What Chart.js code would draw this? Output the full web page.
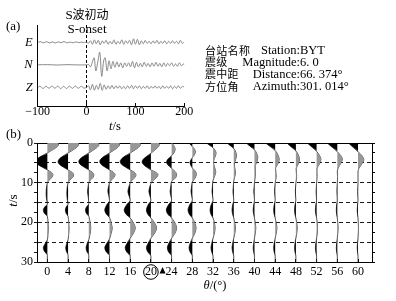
<!DOCTYPE html>
<html>
<head>
<meta charset="utf-8">
<script src="https://cdn.jsdelivr.net/npm/chart.js@4.4.1/dist/chart.umd.min.js"></script>
<style>
body { margin: 0; background: #fff; }
#wrap { position: relative; width: 396px; height: 301px; overflow: hidden; color: #000;
        font-family: "Liberation Serif", "Noto Sans CJK SC", serif; }
canvas { position: absolute; }
.t { position: absolute; white-space: nowrap; line-height: 1; }
.cn { font-family: "Noto Sans CJK SC", sans-serif; font-size: 11px; letter-spacing: 0.3px; }
.en { font-size: 12.5px; }
</style>
</head>
<body>
<div id="wrap">
  <canvas id="chartA" width="200" height="135" style="left:0;top:0"></canvas>
  <canvas id="chartB" width="396" height="173" style="left:0;top:128px"></canvas>

  <div class="t" style="left:6px;top:19px;font-size:13px">(a)</div>
  <div class="t" style="left:87px;top:8px;font-size:13px;transform:translateX(-50%)">S<span style="font-family:'Noto Sans CJK SC';font-size:12px">波初动</span></div>
  <div class="t" style="left:87px;top:22px;font-size:13px;transform:translateX(-50%)">S-onset</div>
  <div class="t" style="left:115px;top:120px;font-size:12.5px;transform:translateX(-50%)"><i>t</i>/s</div>

  <div class="t cn" style="left:205px;top:45px">台站名称</div>
  <div class="t en" style="right:96px;top:44px">Station:</div>
  <div class="t en" style="left:300px;top:44px">BYT</div>
  <div class="t cn" style="left:205px;top:56px">震级</div>
  <div class="t en" style="right:96px;top:56px">Magnitude:</div>
  <div class="t en" style="left:300px;top:56px">6. 0</div>
  <div class="t cn" style="left:205px;top:68px">震中距</div>
  <div class="t en" style="right:96px;top:68px">Distance:</div>
  <div class="t en" style="left:300px;top:68px">66. 374°</div>
  <div class="t cn" style="left:205px;top:81px">方位角</div>
  <div class="t en" style="right:96px;top:80px">Azimuth:</div>
  <div class="t en" style="left:300px;top:80px">301. 014°</div>

  <div class="t" style="left:6px;top:127px;font-size:13px">(b)</div>
  <div class="t" style="left:-3px;top:194px;width:30px;text-align:center;font-size:13px;transform:rotate(-90deg)"><i>t</i>/s</div>
  <div class="t" style="left:215px;top:279px;font-size:12.5px;transform:translateX(-50%)"><i>θ</i>/(°)</div>
</div>

<script>
// ---- panel (a): three components, [time s, amplitude] ----
var channels = ['Z', 'N', 'E'];
var eTrace = [[-100,0],[-94,0.6],[-88,-0.5],[-82,0.7],[-76,-0.6],[-70,0.4],[-64,-0.7],[-58,0.5],[-52,-0.4],[-46,0.8],
  [-40,-0.6],[-34,0.3],[-28,-0.5],[-22,0.4],[-16,-0.3],[-10,0.2],[-4,-0.2],[0,0],
  [4,-1],[8,1.5],[12,-2],[16,2.5],[20,-1.5],[24,2],[28,-2.5],[32,1.5],[36,-1],[40,2],[44,-2],[48,1],[52,-1.5],
  [56,2.5],[60,-2],[64,1],[68,-1.5],[72,2.5],[76,-2],[80,1.5],[84,-1],[88,2],[92,-2.5],[96,3.5],[100,-2],[104,3],
  [108,-2.5],[112,1.5],[116,-1.5],[120,2],[124,-1],[128,1],[132,-1.5],[136,1.5],[140,-1],[144,2],[148,-1.5],
  [152,1],[156,-1],[160,1.5],[164,-1.5],[168,1],[172,-1],[176,1.5],[180,-1],[184,1],[188,-1.5],[192,2],[196,-1],[200,0.5]];
var nTrace = [[-100,0],[-80,0.2],[-60,-0.2],[-40,0.2],[-20,-0.1],[0,0],
  [4,0.5],[8,-2],[12,3],[15.5,7],[19,-6],[23,3],[27,12.5],[31,-11.5],[35,4],[38,7],[42,-6],[46,4],[50,-4],
  [54,3.5],[58,-2.5],[62,3],[66,-2],[70,2],[74,-3],[78,2],[82,-1.5],[86,2],[90,-2],[94,3.5],[98,-3],[102,2.5],
  [106,-2],[110,1.5],[114,-2],[118,2.5],[122,-1.5],[126,1.5],[130,-2],[134,2],[138,-1.5],[142,2.5],[146,-1.5],
  [150,1.5],[154,-2],[158,2],[162,-1.5],[166,1.5],[170,-1],[174,2],[178,-1.5],[182,1],[186,-1.5],[190,2],[194,-1],[198,1],[200,0]];
var zTrace = [[-100,0],[-95,1],[-89,-1.2],[-83,1.2],[-77,-1],[-71,1.3],[-65,-1],[-59,1.2],[-53,-1.3],[-47,1],
  [-41,-1.2],[-35,1.2],[-29,-1],[-23,1.3],[-17,-1],[-11,1],[-5,-0.8],[0,0],
  [4,1.5],[8,-2.5],[12,3],[16,-3],[20,2],[24,-2],[28,4],[32,-3],[36,2.5],[40,-2],[44,1.5],[48,-1.5],[52,2],
  [56,-1.5],[60,1.5],[64,-1],[68,1.5],[72,-1.5],[76,1],[80,-1.5],[84,1.5],[88,-1],[92,2],[96,-1.5],[100,1.5],
  [104,-1],[108,1.5],[112,-1.5],[116,1],[120,-1],[124,1.5],[128,-1.5],[132,1],[136,-1],[140,1.5],[144,-1],
  [148,1],[152,-1.5],[156,1.5],[160,-1],[164,1],[168,-1],[172,1.5],[176,-1.5],[180,1],[184,-1],[188,1.5],[192,-1],[196,1],[200,0]];

// ---- panel (b): rotated traces, [time s, amplitude] for each angle ----
var thetas = [0, 4, 8, 12, 16, 20, 24, 28, 32, 36, 40, 44, 48, 52, 56, 60];
var pickTheta = 20;
var trace0 = [[0,11],[0.5,11],[1.2,8.5],[1.9,4],[2.5,0],[3.3,-6],[4.1,-10.5],[4.7,-11.5],[5.4,-9.5],[6.1,-5],[6.8,0],[7.4,4],[8,5.5],[8.7,4.5],[9.4,1.5],[10.1,0],[11.5,-1],[13,-1.2],[14.5,-0.6],[15.4,0],[16.1,-2.5],[16.9,-4],[17.7,-3],[18.5,0],[20,0.6],[21.5,1],[23,0.6],[24.4,0],[25.5,-2.5],[26.4,-4],[27.3,-3],[28.3,0],[30,0]];
var trace4 = [[0,10.5],[0.5,10.5],[1.2,8],[1.9,4],[2.5,0],[3.3,-5],[4.1,-9],[4.7,-10],[5.4,-8.5],[6.1,-4.5],[6.8,0],[7.4,4],[8,5.5],[8.7,4.5],[9.4,1.5],[10.1,0],[11.5,-1],[13,-1.2],[14.5,-0.6],[15.4,0],[16.1,-1.8],[16.9,-2.7],[17.7,-2],[18.5,0],[20,0.6],[21.5,1],[23,0.6],[24.4,0],[25.5,-1.5],[26.4,-2.3],[27.3,-1.7],[28.3,0],[30,0]];
var trace8 = [[0,10],[0.5,10],[1.2,7.8],[1.9,3.8],[2.5,0],[3.3,-5],[4.1,-9],[4.7,-10],[5.4,-8.5],[6.1,-4.5],[6.8,0],[7.4,3.6],[8,5],[8.7,4.2],[9.4,1.4],[10.1,0],[11.2,-0.8],[12.3,-1.2],[13.5,-0.6],[15.3,0],[16.1,-2.2],[16.9,-3.3],[17.7,-2.5],[18.5,0],[20,1.2],[21.5,2],[23,1.2],[24.4,0],[25.5,-1.8],[26.4,-2.7],[27.3,-2],[28.3,0],[30,0]];
var trace12 = [[0,10],[0.5,10],[1.2,7.8],[1.9,3.8],[2.5,0],[3.3,-5],[4.1,-8.8],[4.7,-9.7],[5.4,-8.2],[6.1,-4.4],[6.8,0],[7.4,4],[8,5.5],[8.7,4.5],[9.4,1.5],[10.1,0],[11.3,-1.2],[12.2,-1.6],[13.2,-0.8],[14.5,0],[15.6,-2.8],[16.9,-4.7],[17.9,-3.2],[18.8,0],[20.3,1.8],[21.5,2.7],[22.8,1.6],[24.2,0],[25.4,-3],[26.4,-4.7],[27.4,-3.3],[28.4,0],[30,0]];
var trace16 = [[0,10],[0.5,10],[1.2,7.8],[1.9,3.8],[2.5,0],[3.3,-5.2],[4.1,-9],[4.7,-10],[5.4,-8.5],[6.1,-4.5],[6.8,0],[7.4,4.2],[8,5.7],[8.7,4.7],[9.4,1.6],[10.1,0],[11.2,-1.5],[12.2,-2.3],[13.3,-1.2],[14.4,0],[15.6,-3.6],[16.9,-6],[18,-4],[18.9,0],[20.2,3.3],[21.4,5],[22.7,3.3],[24,0],[25.3,-3.2],[26.4,-5],[27.5,-3.4],[28.5,0],[30,0]];
var trace20 = [[0,8],[0.5,8.3],[1.2,6.5],[1.9,3.2],[2.6,0],[3.4,-4.5],[4.2,-8],[4.8,-8.8],[5.5,-7.2],[6.2,-3.6],[6.8,0],[7.4,5],[8,7],[8.7,5.6],[9.5,1.8],[10.2,0],[11.2,-1.3],[12.2,-2],[13.3,-1],[14.4,0],[15.6,-2.8],[16.9,-4.5],[18,-3],[18.9,0],[20.2,3.8],[21.4,5.7],[22.7,3.8],[24,0],[25.3,-2.8],[26.4,-4.5],[27.5,-3],[28.5,0],[30,0]];
var trace24 = [[0,0.5],[0.8,2.5],[1.6,3.5],[2.4,2.5],[3.2,0],[4,-3.5],[4.8,-5],[5.6,-3.5],[6.4,0],[7.2,3.5],[8,5],[8.8,3.8],[9.7,0],[11.2,-1],[12.2,-1.5],[13.3,-0.8],[14.4,0],[15.6,-3.2],[16.9,-5.3],[18,-3.6],[18.9,0],[20.2,3.4],[21.4,5],[22.7,3.4],[24,0],[25.3,-2.8],[26.4,-4.3],[27.5,-3],[28.5,0],[30,0]];
var trace28 = [[0,-3.3],[0.4,-2],[0.9,0],[1.6,2.3],[2.3,3],[3,2],[3.7,0],[4.4,-1.8],[5,-2.3],[5.6,-1.6],[6.3,0],[7.1,3],[7.9,4],[8.8,2.8],[9.8,0],[11.2,-0.9],[12.2,-1.3],[13.3,-0.7],[14.4,0],[15.6,-2.7],[16.9,-4.3],[18,-2.9],[18.9,0],[20.2,2.5],[21.4,3.7],[22.7,2.5],[24,0],[25.3,-2.2],[26.4,-3.3],[27.5,-2.2],[28.5,0],[30,0]];
var trace32 = [[0,-6.5],[0.5,-3.8],[1.2,0],[1.9,2.2],[2.6,3],[3.4,2.1],[4.3,0.8],[5.2,0.6],[6.2,1.6],[7.2,2.7],[8.2,1.8],[9.4,0],[11.2,-0.7],[12.2,-1],[13.3,-0.5],[14.4,0],[15.6,-1.9],[16.9,-3],[18,-2],[18.9,0],[20.2,1.4],[21.4,2],[22.7,1.4],[24,0],[25.3,-1.3],[26.4,-2],[27.5,-1.3],[28.5,0],[30,0]];
var trace36 = [[0,-6.7],[0.6,-3.8],[1.4,0],[2.3,2],[3.2,2.7],[4.2,1.8],[5.3,0.6],[6.4,1.1],[7.4,1.7],[8.4,1.1],[9.5,0],[11.2,-0.5],[12.2,-0.8],[13.3,-0.4],[14.4,0],[15.6,-1.1],[16.9,-1.7],[18,-1.1],[18.9,0],[20.2,1.1],[21.4,1.7],[22.7,1.1],[24,0],[25.3,-1.1],[26.4,-1.7],[27.5,-1.1],[28.5,0],[30,0]];
var trace40 = [[0,-8.3],[0.8,-4.5],[1.7,0],[2.7,2.3],[3.7,3.3],[4.8,2.3],[5.9,0.7],[7,0.8],[8,1],[9,0.5],[10,0],[11.2,-0.4],[12.2,-0.7],[13.3,-0.3],[14.4,0],[15.6,-0.8],[16.9,-1.3],[18,-0.8],[18.9,0],[20.2,0.8],[21.4,1.3],[22.7,0.8],[24,0],[25.3,-0.8],[26.4,-1.3],[27.5,-0.8],[28.5,0],[30,0]];
var trace44 = [[0,-9.5],[0.9,-5],[1.9,0],[3,2.7],[4.1,4],[5.2,2.8],[6.4,0.4],[7.4,0.7],[8.3,1],[9.2,0.6],[10.1,0],[11.2,-0.4],[12.2,-0.6],[13.3,-0.3],[14.4,0],[15.6,-1],[16.9,-1.5],[18,-1],[18.9,0],[20.2,1.1],[21.4,1.7],[22.7,1.1],[24,0],[25.3,-1],[26.4,-1.5],[27.5,-1],[28.5,0],[30,0]];
var trace48 = [[0,-9],[1,-4.6],[2,0],[3,2.4],[4.1,3.6],[5.2,2.5],[6.5,0.3],[7.4,0.5],[8.3,0.8],[9.2,0.5],[10.1,0],[11.2,-0.3],[12.2,-0.5],[13.3,-0.3],[14.4,0],[15.6,-0.9],[16.9,-1.3],[18,-0.9],[18.9,0],[20.2,0.9],[21.4,1.3],[22.7,0.9],[24,0],[25.3,-0.9],[26.4,-1.3],[27.5,-0.9],[28.5,0],[30,0]];
var trace52 = [[0,-9.3],[1,-4.8],[2.1,0],[3.1,2.8],[4.1,4.3],[5.2,3],[6.6,0.3],[7.5,0.4],[8.4,0.5],[9.3,0.3],[10.1,0],[11.2,-0.3],[12.2,-0.5],[13.3,-0.3],[14.4,0],[15.6,-0.8],[16.9,-1.2],[18,-0.8],[18.9,0],[20.2,0.7],[21.4,1],[22.7,0.7],[24,0],[25.3,-0.8],[26.4,-1.2],[27.5,-0.8],[28.5,0],[30,0]];
var trace56 = [[0,-10],[1.1,-5],[2.2,0],[3.1,3.2],[4.1,5],[5.1,3.5],[6.3,0.8],[7.3,0],[8.4,0.3],[10.1,0],[11.2,-0.3],[12.2,-0.4],[13.3,-0.2],[14.4,0],[15.6,-0.7],[16.9,-1],[18,-0.7],[18.9,0],[20.2,0.5],[21.4,0.8],[22.7,0.5],[24,0],[25.3,-0.7],[26.4,-1],[27.5,-0.7],[28.5,0],[30,0]];
var trace60 = [[0,-9.5],[1.1,-4.8],[2.2,0],[3.1,3.6],[4.2,5.8],[5.2,4],[6.4,0.9],[7.3,0],[10.1,0],[11.2,-0.2],[12.2,-0.3],[13.3,-0.2],[14.4,0],[15.6,-0.5],[16.9,-0.8],[18,-0.5],[18.9,0],[20.2,0.3],[21.4,0.5],[22.7,0.3],[24,0],[25.3,-0.5],[26.4,-0.8],[27.5,-0.5],[28.5,0],[30,0]];
var traces = [trace0, trace4, trace8, trace12, trace16, trace20, trace24, trace28,
              trace32, trace36, trace40, trace44, trace48, trace52, trace56, trace60];

Chart.defaults.font.family = '"Liberation Serif", serif';
Chart.defaults.font.size = 12;
Chart.defaults.color = '#000';

// ---------- chart (a) ----------
var ampA = 1 / 22.5;
var aSets = [zTrace, nTrace, eTrace].map(function(tr, i) {
    return {
        data: tr.map(function(p) { return {x: p[0], y: i + p[1] * ampA}; }),
        borderColor: '#7d7d7d',
        borderWidth: 0.9,
        pointRadius: 0,
        tension: 0.35,
        fill: false
    };
});

new Chart(document.getElementById('chartA'), {
    type: 'line',
    data: {datasets: aSets},
    options: {
        responsive: false,
        animation: false,
        layout: {padding: {top: 25, right: 15.7, left: 0, bottom: 0}},
        plugins: {legend: {display: false}, tooltip: {enabled: false}},
        scales: {
            x: {
                type: 'linear', min: -100, max: 200,
                afterFit: function(s) { s.height = 29; },
                ticks: {
                    stepSize: 50, padding: 2, maxRotation: 0,
                    callback: function(v) {
                        if (v % 100 !== 0) return '';
                        return v < 0 ? '\u2212' + (-v) : '' + v;
                    }
                },
                grid: {
                    color: function(c) { return c.tick && c.tick.value === 0 ? '#000' : 'rgba(0,0,0,0)'; },
                    tickColor: '#000', tickLength: -3, lineWidth: 1
                },
                border: {color: '#000', dash: [3, 2]}
            },
            y: {
                type: 'linear', min: -0.83, max: 2.77,
                afterFit: function(s) { s.width = 37.7; },
                afterBuildTicks: function(s) { s.ticks = channels.map(function(c, i) { return {value: i}; }); },
                ticks: {
                    padding: 5,
                    font: {style: 'italic', size: 12.5},
                    callback: function(v) { return channels[v]; }
                },
                grid: {drawOnChartArea: false, drawTicks: false},
                border: {color: '#000'}
            }
        }
    }
});

// ---------- chart (b) ----------
var ampB = 1 / 5.175;
var bSets = [];
thetas.forEach(function(th, i) {
    var tr = traces[i];
    var pts = function(f) { return tr.map(function(p) { return {x: th + f(p[1]) * ampB, y: p[0]}; }); };
    bSets.push({data: pts(function(a) { return Math.max(a, 0); }), fill: {value: th},
                backgroundColor: '#979797', borderWidth: 0, pointRadius: 0, cubicInterpolationMode: 'monotone'});
    bSets.push({data: pts(function(a) { return Math.min(a, 0); }), fill: {value: th},
                backgroundColor: '#000', borderWidth: 0, pointRadius: 0, cubicInterpolationMode: 'monotone'});
    bSets.push({data: pts(function(a) { return a; }), fill: false,
                borderColor: '#222', borderWidth: 0.8, pointRadius: 0, cubicInterpolationMode: 'monotone'});
});

var markPlugin = {
    id: 'pickMark',
    afterDraw: function(chart) {
        var ctx = chart.ctx, x = chart.scales.x;
        var cx = x.getPixelForValue(pickTheta), cy = x.top + 10;
        ctx.save();
        ctx.strokeStyle = '#000';
        ctx.lineWidth = 1;
        ctx.beginPath();
        ctx.arc(cx, cy, 7.3, 0, Math.PI * 2);
        ctx.stroke();
        var tx = x.getPixelForValue(pickTheta + 2.25);
        ctx.fillStyle = '#000';
        ctx.beginPath();
        ctx.moveTo(tx - 3, cy + 1.5);
        ctx.lineTo(tx + 3, cy + 1.5);
        ctx.lineTo(tx, cy - 5);
        ctx.closePath();
        ctx.fill();
        ctx.restore();
    }
};

new Chart(document.getElementById('chartB'), {
    type: 'line',
    data: {datasets: bSets},
    plugins: [markPlugin],
    options: {
        indexAxis: 'y',
        responsive: false,
        animation: false,
        layout: {padding: {top: 15, right: 0, left: 0, bottom: 0}},
        plugins: {legend: {display: false}, tooltip: {enabled: false}},
        scales: {
            x: {
                type: 'linear', position: 'bottom', min: -2, max: 62.7,
                afterFit: function(s) { s.height = 39; },
                afterBuildTicks: function(s) { s.ticks = thetas.map(function(v) { return {value: v}; }); },
                ticks: {padding: 6, maxRotation: 0, autoSkip: false},
                grid: {drawOnChartArea: false, tickColor: '#000', tickLength: -3},
                border: {color: '#000'}
            },
            xTop: {
                type: 'linear', position: 'top', min: -2, max: 62.7,
                afterFit: function(s) { s.height = 0; },
                ticks: {display: false},
                grid: {display: false},
                border: {color: '#000'}
            },
            y: {
                type: 'linear', position: 'left', min: 0, max: 30, reverse: true,
                afterFit: function(s) { s.width = 37; },
                ticks: {
                    stepSize: 2.5, padding: 1, autoSkip: false,
                    callback: function(v) { return v % 10 === 0 ? v : ''; }
                },
                grid: {
                    color: function(c) {
                        var v = c.tick ? c.tick.value : 0;
                        return (v % 5 === 0 && v > 0 && v < 30) ? '#000' : 'rgba(0,0,0,0)';
                    },
                    tickColor: '#000', tickLength: 3, lineWidth: 0.9
                },
                border: {color: '#000', dash: [4, 3]}
            },
            yRight: {
                type: 'linear', position: 'right', min: 0, max: 30, reverse: true,
                afterFit: function(s) { s.width = 24; },
                ticks: {display: false, stepSize: 2.5},
                grid: {drawOnChartArea: false, tickColor: '#000', tickLength: 3},
                border: {color: '#000'}
            }
        }
    }
});
</script>
</body>
</html>
